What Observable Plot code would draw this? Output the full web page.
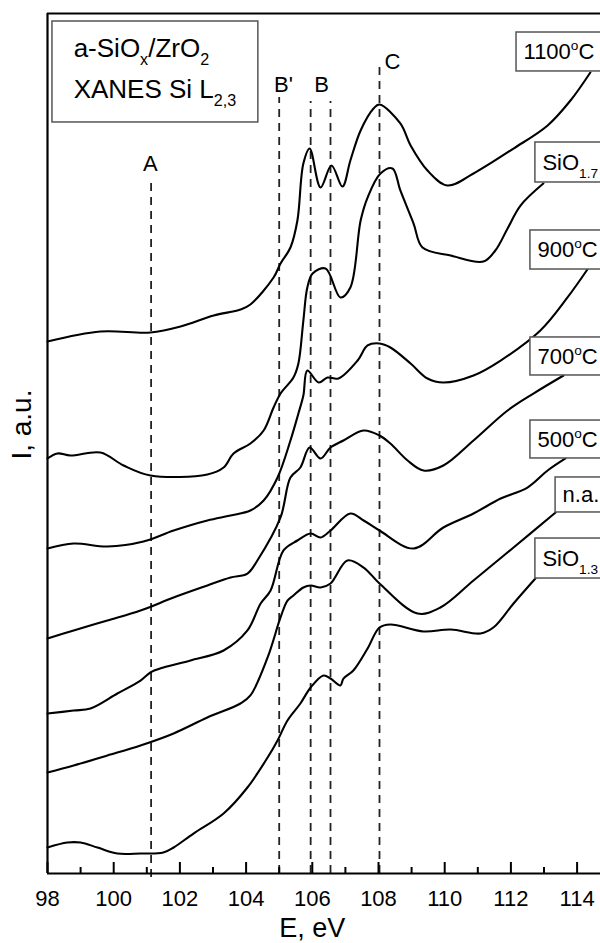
<!DOCTYPE html>
<html><head><meta charset="utf-8">
<script src="https://cdn.jsdelivr.net/npm/d3@7"></script>
<script src="https://cdn.jsdelivr.net/npm/@observablehq/plot@0.6"></script>
<style>body{margin:0;background:#fff;}</style>
</head><body><div id="chart"></div>
<script>
// ---------- data (E in eV, I in arbitrary units) ----------
const seriesNames = ["1100C", "SiO1.7", "900C", "700C", "500C", "na", "SiO1.3"];

const E_1100 = [98.00,99.60,101.11,102.02,103.02,103.83,104.13,104.83,105.04,105.34,105.55,105.73,105.92,106.25,106.58,106.91,107.15,107.46,107.85,108.03,108.66,108.97,109.48,110.08,110.87,112.08,113.11,113.80,114.40];
const I_1100 = [61.86,63.02,62.91,63.60,64.88,65.58,66.16,69.30,70.93,72.79,75.93,82.56,84.30,79.77,82.33,79.88,82.91,86.40,88.95,89.42,87.21,84.65,81.74,80.00,81.40,84.30,86.98,89.88,93.14];

const E_SiO17 = [98.00,98.30,98.69,99.60,100.30,101.11,102.83,103.32,103.62,104.13,104.53,104.83,105.04,105.43,105.58,105.73,105.85,106.01,106.40,106.85,107.15,107.46,107.67,108.06,108.42,108.66,109.06,109.33,110.18,111.17,111.53,111.90,112.29,112.98];
const I_SiO17 = [48.26,48.84,48.60,48.95,47.44,46.28,46.40,47.21,48.84,50.00,51.51,54.19,55.81,57.67,59.30,64.30,68.14,69.77,70.35,66.98,68.14,75.93,78.60,81.40,81.98,79.42,75.58,72.79,71.86,71.16,72.44,75.00,77.67,80.23];

const E_900 = [98.00,98.79,99.81,100.90,101.81,102.83,103.53,104.13,104.53,104.95,105.34,105.58,105.73,105.85,106.19,106.46,106.79,107.37,107.67,108.03,108.36,108.97,109.48,109.96,110.87,111.69,112.89,113.71,114.31];
const I_900 = [37.79,38.37,38.02,38.60,39.88,41.05,41.63,42.21,43.37,46.05,50.35,53.49,55.58,58.49,57.09,57.67,57.56,59.65,61.40,61.63,61.16,59.30,57.56,57.09,57.91,59.65,63.14,66.98,70.23];

const E_700 = [98.00,98.79,99.81,100.81,101.81,102.83,103.53,104.04,104.34,105.04,105.34,105.64,105.92,106.25,106.55,106.94,107.55,108.03,108.36,108.88,109.36,109.96,110.87,111.90,112.68,113.59];
const I_700 = [27.33,28.26,29.42,30.58,32.09,33.49,34.42,34.88,36.40,41.40,46.05,47.21,49.53,48.26,49.53,50.35,51.51,50.93,50.00,48.02,46.86,47.44,50.35,53.84,55.81,57.91];

const E_500 = [98.00,98.79,99.30,100.11,100.81,101.11,101.50,102.32,103.32,104.04,104.44,104.74,105.13,105.55,105.95,106.25,106.55,107.15,107.55,108.03,109.06,109.96,110.87,111.69,112.50,113.11,113.65];
const I_500 = [18.60,18.95,19.19,20.93,22.44,23.37,23.95,24.77,25.93,28.26,31.40,32.91,37.56,38.72,39.53,39.07,39.88,41.86,41.05,39.88,37.79,40.23,41.86,43.60,44.88,46.86,48.26];

const E_na = [98.00,98.79,99.81,100.81,101.81,102.83,103.83,104.13,104.65,105.04,105.25,105.43,105.73,105.95,106.25,106.55,107.06,107.55,108.03,109.18,109.87,110.87,112.08,113.35];
const I_na = [11.74,12.56,13.72,14.88,16.28,18.14,19.77,20.70,25.12,29.77,31.74,32.33,33.26,33.49,33.26,33.72,36.40,35.58,33.72,30.23,30.93,34.07,37.91,41.98];

const E_SiO13 = [98.00,98.60,99.00,99.51,100.11,100.81,101.50,101.81,102.41,103.32,104.04,104.65,104.95,105.25,105.64,105.95,106.34,106.55,106.85,106.94,107.24,107.67,108.03,108.36,109.36,110.18,111.08,111.47,112.08,112.74];
const I_SiO13 = [3.02,3.60,3.60,3.02,2.33,2.33,2.44,3.02,4.65,6.98,10.00,13.49,15.47,17.79,19.77,21.63,23.02,22.67,21.86,22.67,23.60,26.16,28.60,28.95,28.14,28.37,27.91,28.60,31.40,34.30];

// curve labels (boxes at right)
const labelText = ["1100^{o}C", "SiO_{1.7}", "900^{o}C", "700^{o}C", "500^{o}C", "n.a.", "SiO_{1.3}"];
const labelE    = [112.17, 112.74, 112.59, 112.59, 112.59, 113.35, 112.74];
const labelLo   = [93.26, 80.35, 70.23, 57.91, 48.26, 41.98, 34.30];
const labelHi   = [97.79, 85.00, 74.77, 62.33, 52.67, 46.05, 38.95];

// feature markers
const featName = ["A", "B'", "B", "C"];
const featE    = [101.11, 105.13, 106.28, 108.42];
const featI    = [81.74, 90.93, 90.93, 93.60];

// dashed guide lines
const dashE   = [101.13, 105.0, 105.95, 106.55, 108.03];
const dashTop = [80.81, 90.23, 89.77, 89.77, 94.30];
const dashBot = [-0.47, 0, 0, 0, 0];

// legend box
const legendLines = ["a-SiO_{x}/ZrO_{2}", "XANES Si L_{2,3}"];
const legendE = 98.79;
const legendI = [95.0, 90.12];
const legendBoxE = [98.15, 104.37];
const legendBoxI = [87.33, 99.07];

const xTicks = [98, 100, 102, 104, 106, 108, 110, 112, 114];
const xMinor = [99, 101, 103, 105, 107, 109, 111, 113];
const xLabel = "E, eV", xLabelE = 106;
const yLabel = "I, a.u.", yLabelI = 52.2;

// ---------- build table ----------
const allE = [E_1100, E_SiO17, E_900, E_700, E_500, E_na, E_SiO13];
const allI = [I_1100, I_SiO17, I_900, I_700, I_500, I_na, I_SiO13];
const rows = [];
seriesNames.forEach((s, k) => allE[k].forEach((e, j) => rows.push({series: s, E: e, I: allI[k][j]})));

const pxPerI = 860 / 100;      // y scale: 100 units over 860 px
const pxPerE = 553 / (114.707 - 98);
const font = "'Liberation Sans', Arial, Helvetica, sans-serif";

const chart = Plot.plot({
  width: 600, height: 943,
  marginLeft: 47, marginRight: 0, marginTop: 13, marginBottom: 70,
  x: {domain: [98, 114.707]},
  y: {domain: [0, 100], axis: null},
  style: {fontFamily: font, background: "white", color: "black", overflow: "hidden"},
  marks: [
    // dashed guides
    Plot.ruleX(dashE, {x: d => d, y1: (d, i) => dashBot[i], y2: (d, i) => dashTop[i], stroke: "#222", strokeWidth: 1.8, strokeDasharray: "8,6"}),
    // curves
    Plot.line(rows, {x: "E", y: "I", z: "series", stroke: "black", strokeWidth: 2.1, curve: "catmull-rom"}),
    // frame
    Plot.ruleY([0, 100], {stroke: "black", strokeWidth: 2.2}),
    Plot.ruleX([98], {stroke: "black", strokeWidth: 2.2}),
    // ticks (inward)
    Plot.ruleX(xTicks, {x: d => d, y1: 0, y2: 11 / pxPerI, stroke: "black", strokeWidth: 2}),
    Plot.ruleX(xMinor, {x: d => d, y1: 0, y2: 6 / pxPerI, stroke: "black", strokeWidth: 2}),
    Plot.axisX({ticks: xTicks, tickSize: 0, tickPadding: 17, fontSize: 22, label: null, tickFormat: d => String(d)}),
    // axis titles
    Plot.text([xLabel], {x: () => xLabelE, y: () => 0, dy: 63, lineAnchor: "bottom", fontSize: 27}),
    Plot.text([yLabel], {x: () => 98, y: () => yLabelI, dx: -25, rotate: -90, fontSize: 28}),
    // legend box
    Plot.rect([0], {x1: () => legendBoxE[0], x2: () => legendBoxE[1], y1: () => legendBoxI[0], y2: () => legendBoxI[1], fill: "white", stroke: "#555", strokeWidth: 1.5}),
    Plot.text(legendLines, {x: () => legendE, y: (d, i) => legendI[i], text: d => d, textAnchor: "start", lineAnchor: "bottom", fontSize: 26, className: "rich"}),
    // feature letters
    Plot.text(featName, {x: (d, i) => featE[i], y: (d, i) => featI[i], text: d => d, lineAnchor: "bottom", fontSize: 22}),
    // curve label boxes
    Plot.rect(labelText, {x1: (d, i) => labelE[i], x2: () => 117, y1: (d, i) => labelLo[i], y2: (d, i) => labelHi[i], fill: "white", stroke: "#555", strokeWidth: 1.5}),
    Plot.text(labelText, {x: (d, i) => labelE[i] + 7 / pxPerE, y: (d, i) => (labelLo[i] + labelHi[i]) / 2, text: d => d, textAnchor: "start", fontSize: 22, className: "rich"})
  ]
});

// rich text: _{sub} and ^{sup}
d3.select(chart).selectAll("g.rich text").each(function() {
  const s = this.textContent;
  const sel = d3.select(this);
  sel.text(null);
  const re = /([_^])\{([^}]*)\}|([^_^]+)/g;
  let m, shift = 0;
  while ((m = re.exec(s))) {
    if (m[3] !== undefined) {
      sel.append("tspan").attr("dy", -shift).text(m[3]);
      shift = 0;
    } else {
      const d = m[1] === "^" ? -9 : 8;
      sel.append("tspan").attr("font-size", "0.62em").attr("dy", d - shift).text(m[2]);
      shift = d;
    }
  }
});

document.getElementById("chart").append(chart);
</script></body></html>
